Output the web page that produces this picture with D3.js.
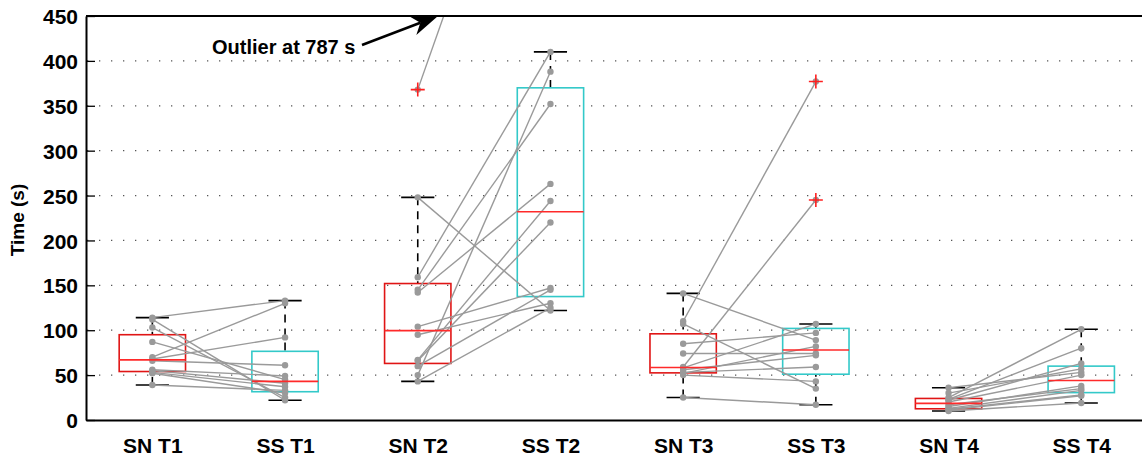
<!DOCTYPE html>
<html>
<head>
<meta charset="utf-8">
<script src="https://cdnjs.cloudflare.com/ajax/libs/d3/7.8.5/d3.min.js"></script>
<style>
  body { margin: 0; background: #fff; }
  text { font-family: "Liberation Sans", Arial, sans-serif; font-weight: bold; fill: #000; }
</style>
</head>
<body>
<div id="vis"></div>
<script>
// group labels, left to right
var groups = ["SN T1", "SS T1", "SN T2", "SS T2", "SN T3", "SS T3", "SN T4", "SS T4"];
var yTicks = [0, 50, 100, 150, 200, 250, 300, 350, 400, 450];

// times per subject (s), same subject order within each task
var snT1 = [114, 112, 103, 87, 70, 68, 66, 56, 55, 53, 52, 39];
var ssT1 = [133, 22, 25, 45, 130, 92, 61, 49, 41, 37, 30, 33];
var snT2 = [368, 248, 159, 145, 142, 104, 95, 67, 66, 60, 50, 43];
var ssT2 = [787, 122, 410, 352, 263, 147, 130, 244, 220, 145, 388, 125];
var snT3 = [141, 110, 107, 85, 74, 59, 58, 56, 53, 52, 50, 25];
var ssT3 = [89, 377, 35, 97, 74, 245, 107, 72, 59, 82, 43, 17];
var snT4 = [36, 30, 25, 23, 22, 20, 17, 15, 13, 12, 11, 10];
var ssT4 = [53, 57, 101, 80, 63, 50, 35, 38, 33, 28, 27, 19];

var series = [snT1, ssT1, snT2, ssT2, snT3, ssT3, snT4, ssT4];
var boxColors = ["#e01515", "#33c9c9"];

var W = 1142, H = 457;
var mLeft = 86, mTop = 16, mBottom = 420;

// matlab style percentile
function prctile(sorted, p) {
  var n = sorted.length;
  var pos = n * p / 100 + 0.5;
  if (pos <= 1) return sorted[0];
  if (pos >= n) return sorted[n - 1];
  var lo = Math.floor(pos);
  return sorted[lo - 1] + (pos - lo) * (sorted[lo] - sorted[lo - 1]);
}

function boxStats(vals) {
  var s = vals.slice().sort(d3.ascending);
  var q1 = prctile(s, 25), med = prctile(s, 50), q3 = prctile(s, 75);
  var iqr = q3 - q1;
  var inside = s.filter(function(v) { return v >= q1 - 1.5 * iqr && v <= q3 + 1.5 * iqr; });
  return {
    q1: q1, med: med, q3: q3,
    lo: d3.min(inside), hi: d3.max(inside),
    out: s.filter(function(v) { return v < q1 - 1.5 * iqr || v > q3 + 1.5 * iqr; })
  };
}

var x = d3.scaleLinear().domain([0.5, 8.5]).range([mLeft, mLeft + 8 * 132.7]);
var y = d3.scaleLinear().domain([0, 450]).range([mBottom, mTop]);
var mRight = x(8.5);

var svg = d3.select("#vis").append("svg")
  .attr("width", W)
  .attr("height", H)
  .style("display", "block");

svg.append("defs").append("clipPath").attr("id", "plot")
  .append("rect")
  .attr("x", mLeft).attr("y", mTop)
  .attr("width", mRight - mLeft).attr("height", mBottom - mTop);

// dotted grid
svg.append("g").selectAll("line")
  .data(yTicks.filter(function(d) { return d > 0 && d < 450; }))
  .join("line")
  .attr("x1", mLeft).attr("x2", mRight)
  .attr("y1", function(d) { return y(d); })
  .attr("y2", function(d) { return y(d); })
  .attr("stroke", "#555")
  .attr("stroke-width", 1.3)
  .attr("stroke-dasharray", "1.3,10.7")
  .attr("stroke-dashoffset", -13);

var g = svg.append("g").attr("clip-path", "url(#plot)");

var boxW = 0.25, capW = 0.125;

series.forEach(function(vals, i) {
  var cx = i + 1;
  var st = boxStats(vals);
  var col = boxColors[i % 2];

  // whiskers
  [[st.q3, st.hi], [st.q1, st.lo]].forEach(function(w) {
    g.append("line")
      .attr("x1", x(cx)).attr("x2", x(cx))
      .attr("y1", y(w[1])).attr("y2", y(w[0]))
      .attr("stroke", "#000").attr("stroke-width", 1.6)
      .attr("stroke-dasharray", "8,6");
    g.append("line")
      .attr("x1", x(cx - capW)).attr("x2", x(cx + capW))
      .attr("y1", y(w[1])).attr("y2", y(w[1]))
      .attr("stroke", "#000").attr("stroke-width", 1.6);
  });

  g.append("rect")
    .attr("x", x(cx - boxW))
    .attr("y", y(st.q3))
    .attr("width", x(cx + boxW) - x(cx - boxW))
    .attr("height", y(st.q1) - y(st.q3))
    .attr("fill", "none")
    .attr("stroke", col)
    .attr("stroke-width", 1.6);
});

// subject lines between the pairs
for (var t = 0; t < 4; t++) {
  var a = series[2 * t], b = series[2 * t + 1];
  a.forEach(function(v, k) {
    g.append("line")
      .attr("x1", x(2 * t + 1)).attr("y1", y(v))
      .attr("x2", x(2 * t + 2)).attr("y2", y(b[k]))
      .attr("stroke", "#9a9a9a")
      .attr("stroke-width", 1.4);
  });
}

series.forEach(function(vals, i) {
  g.append("g").selectAll("circle")
    .data(vals)
    .join("circle")
    .attr("cx", x(i + 1))
    .attr("cy", function(d) { return y(d); })
    .attr("r", 3.2)
    .attr("fill", "#9a9a9a");
});

// medians and outliers on top
series.forEach(function(vals, i) {
  var cx = i + 1;
  var st = boxStats(vals);
  g.append("line")
    .attr("x1", x(cx - boxW)).attr("x2", x(cx + boxW))
    .attr("y1", y(st.med)).attr("y2", y(st.med))
    .attr("stroke", "#ff2a2a").attr("stroke-width", 1.6);
  st.out.forEach(function(o) {
    var px = x(cx), py = y(o);
    g.append("path")
      .attr("d", "M" + (px - 7) + "," + py + "H" + (px + 7) + "M" + px + "," + (py - 7) + "V" + (py + 7))
      .attr("stroke", "#ff2020").attr("stroke-width", 1.6);
  });
});

// axes
var yAxis = d3.axisLeft(y).tickValues(yTicks).tickSizeInner(-9).tickSizeOuter(0).tickPadding(8);
var ya = svg.append("g").attr("transform", "translate(" + mLeft + ",0)").call(yAxis);
ya.select(".domain").attr("stroke-width", 2);
ya.selectAll(".tick line").attr("stroke-width", 1.3);
ya.selectAll("text").style("font-size", "21px").attr("dy", "0.36em");

var xAxis = d3.axisBottom(x).tickValues(d3.range(1, 9))
  .tickFormat(function(d) { return groups[d - 1]; })
  .tickSize(0).tickPadding(18);
var xa = svg.append("g").attr("transform", "translate(0," + mBottom + ")").call(xAxis);
xa.select(".domain").attr("stroke-width", 2.2);
xa.selectAll("text").style("font-size", "21px");

svg.append("line")
  .attr("x1", mLeft).attr("x2", mRight)
  .attr("y1", mTop).attr("y2", mTop)
  .attr("stroke", "#000").attr("stroke-width", 2);

svg.append("text")
  .attr("transform", "translate(24," + ((mTop + mBottom) / 2 + 2) + ") rotate(-90)")
  .attr("text-anchor", "middle")
  .style("font-size", "19px")
  .text("Time (s)");

// annotation arrow
var tail = [362, 45], tip = [438, 16];
var dx = tip[0] - tail[0], dy = tip[1] - tail[1], len = Math.sqrt(dx * dx + dy * dy);
var ux = dx / len, uy = dy / len, nx = -uy, ny = ux;
var hl = 27, hw = 10;
var bx = tip[0] - hl * ux, by = tip[1] - hl * uy;
var nbx = tip[0] - hl * 0.7 * ux, nby = tip[1] - hl * 0.7 * uy;
svg.append("line")
  .attr("x1", tail[0]).attr("y1", tail[1])
  .attr("x2", nbx).attr("y2", nby)
  .attr("stroke", "#000").attr("stroke-width", 2.5);
svg.append("path")
  .attr("d", "M" + tip[0] + "," + tip[1] +
    "L" + (bx + hw * nx) + "," + (by + hw * ny) +
    "L" + nbx + "," + nby +
    "L" + (bx - hw * nx) + "," + (by - hw * ny) + "Z")
  .attr("fill", "#000");

svg.append("text")
  .attr("x", 212).attr("y", 54)
  .style("font-size", "20px")
  .text("Outlier at 787 s");
</script>
</body>
</html>
